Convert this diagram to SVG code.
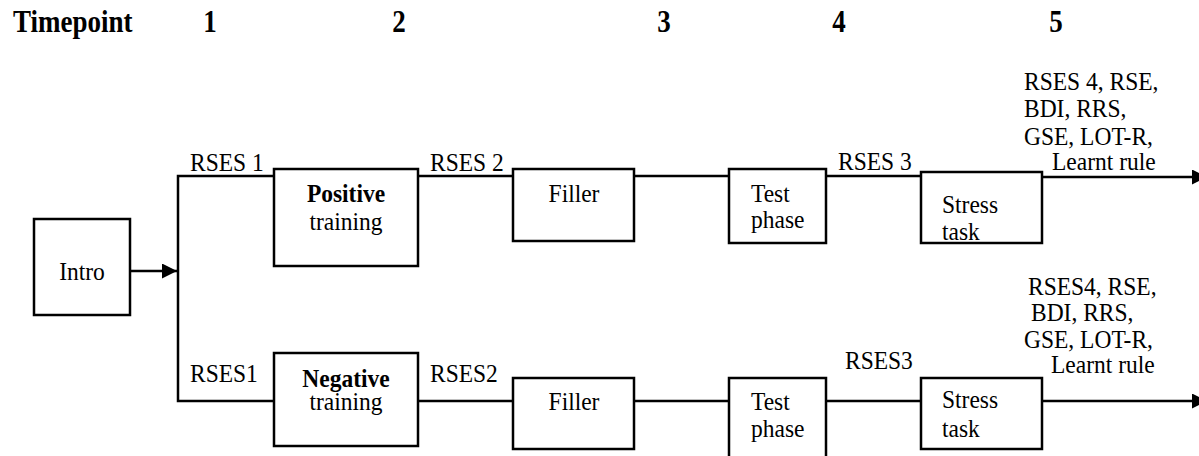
<svg xmlns="http://www.w3.org/2000/svg" width="1199" height="456" viewBox="0 0 1199 456">
  <style>
    .box { fill: #ffffff; stroke: #000000; stroke-width: 2.5; }
    .line { fill: none; stroke: #000000; stroke-width: 2.5; }
    /* text is set at double size and scaled down by its transform */
    .t { font-family: 'Liberation Serif', 'Times New Roman', serif; font-size: 47px; fill: #000000; }
    .head { font-size: 54px; font-weight: bold; }
    .b { font-weight: bold; }
    .c { text-anchor: middle; }
  </style>
  <defs>
    <marker id="arrow" viewBox="0 0 10 10" refX="10" refY="5" markerWidth="6" markerHeight="6" markerUnits="strokeWidth" orient="auto">
      <path d="M0,0 L10,5 L0,10 Z" fill="#000000"/>
    </marker>
  </defs>

  <!-- Timepoint header -->
  <g id="header">
    <text class="t head" transform="translate(13 32) scale(0.5 0.59)">Timepoint</text>
    <text class="t head c" transform="translate(210 32) scale(0.5 0.59)">1</text>
    <text class="t head c" transform="translate(399 32) scale(0.5 0.59)">2</text>
    <text class="t head c" transform="translate(664 32) scale(0.5 0.59)">3</text>
    <text class="t head c" transform="translate(839 32) scale(0.5 0.59)">4</text>
    <text class="t head c" transform="translate(1056 32) scale(0.5 0.59)">5</text>
  </g>

  <!-- Connectors -->
  <g id="connectors">
    <line class="line" x1="130" y1="271" x2="177" y2="271" marker-end="url(#arrow)"/>
    <polyline class="line" points="274,176 178,176 178,401 274,401"/>
    <!-- upper branch -->
    <line class="line" x1="418" y1="176" x2="513" y2="176"/>
    <line class="line" x1="634" y1="176" x2="729" y2="176"/>
    <line class="line" x1="826" y1="176" x2="921" y2="176"/>
    <line class="line" x1="1042" y1="177" x2="1207" y2="177" marker-end="url(#arrow)"/>
    <!-- lower branch -->
    <line class="line" x1="418" y1="401" x2="513" y2="401"/>
    <line class="line" x1="634" y1="401" x2="729" y2="401"/>
    <line class="line" x1="826" y1="401" x2="921" y2="401"/>
    <line class="line" x1="1042" y1="401" x2="1207" y2="401" marker-end="url(#arrow)"/>
  </g>

  <!-- Connector labels -->
  <g id="labels">
    <text class="t" transform="translate(190 171) scale(0.5 0.54)">RSES 1</text>
    <text class="t" transform="translate(430 171) scale(0.5 0.54)">RSES 2</text>
    <text class="t" transform="translate(838 170) scale(0.5 0.54)">RSES 3</text>
    <text class="t" transform="translate(1024 90) scale(0.5 0.54)">RSES 4, RSE,</text>
    <text class="t" transform="translate(1024 117) scale(0.5 0.54)">BDI, RRS,</text>
    <text class="t" transform="translate(1024 145) scale(0.5 0.54)">GSE, LOT-R,</text>
    <text class="t" transform="translate(1052 170) scale(0.5 0.54)">Learnt rule</text>

    <text class="t" transform="translate(190 382) scale(0.5 0.54)">RSES1</text>
    <text class="t" transform="translate(430 382) scale(0.5 0.54)">RSES2</text>
    <text class="t" transform="translate(845 369) scale(0.5 0.54)">RSES3</text>
    <text class="t" transform="translate(1028 295) scale(0.5 0.54)">RSES4, RSE,</text>
    <text class="t" transform="translate(1031 321) scale(0.5 0.54)">BDI, RRS,</text>
    <text class="t" transform="translate(1024 348) scale(0.5 0.54)">GSE, LOT-R,</text>
    <text class="t" transform="translate(1051 373) scale(0.5 0.54)">Learnt rule</text>
  </g>

  <g id="intro">
    <rect class="box" x="34" y="219" width="96" height="96"/>
    <text class="t c" transform="translate(82 280) scale(0.5 0.54)">Intro</text>
  </g>

  <g id="positive-training">
    <rect class="box" x="274" y="169" width="144" height="97"/>
    <text class="t c b" transform="translate(346 202) scale(0.5 0.54)">Positive</text>
    <text class="t c" transform="translate(346 230) scale(0.5 0.54)">training</text>
  </g>
  <g id="filler-top">
    <rect class="box" x="513" y="169" width="121" height="72"/>
    <text class="t c" transform="translate(574 202) scale(0.5 0.54)">Filler</text>
  </g>
  <g id="test-top">
    <rect class="box" x="729" y="169" width="97" height="74"/>
    <text class="t" transform="translate(751 202) scale(0.5 0.54)">Test</text>
    <text class="t" transform="translate(751 228) scale(0.5 0.54)">phase</text>
  </g>
  <g id="stress-top">
    <rect class="box" x="921" y="172" width="121" height="71"/>
    <text class="t" transform="translate(942 213) scale(0.5 0.54)">Stress</text>
    <text class="t" transform="translate(942 240) scale(0.5 0.54)">task</text>
  </g>

  <g id="negative-training">
    <rect class="box" x="274" y="353" width="144" height="93"/>
    <text class="t c b" transform="translate(346 387) scale(0.5 0.54)">Negative</text>
    <text class="t c" transform="translate(346 410) scale(0.5 0.54)">training</text>
  </g>
  <g id="filler-bottom">
    <rect class="box" x="513" y="378" width="121" height="71"/>
    <text class="t c" transform="translate(574 410) scale(0.5 0.54)">Filler</text>
  </g>
  <g id="test-bottom">
    <rect class="box" x="729" y="378" width="97" height="82"/>
    <text class="t" transform="translate(751 410) scale(0.5 0.54)">Test</text>
    <text class="t" transform="translate(751 437) scale(0.5 0.54)">phase</text>
  </g>
  <g id="stress-bottom">
    <rect class="box" x="921" y="378" width="121" height="71"/>
    <text class="t" transform="translate(942 408) scale(0.5 0.54)">Stress</text>
    <text class="t" transform="translate(942 437) scale(0.5 0.54)">task</text>
  </g>
</svg>
